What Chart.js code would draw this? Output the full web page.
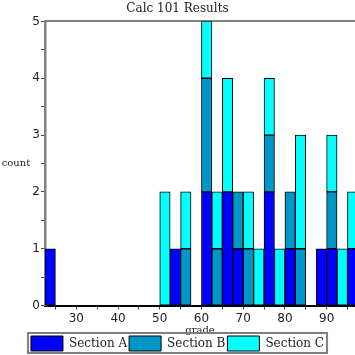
<!DOCTYPE html>
<html>
<head>
<meta charset="utf-8">
<script src="https://cdn.jsdelivr.net/npm/chart.js@4"></script>
<style>
  html, body { margin: 0; padding: 0; background: #fff; }
  canvas { display: block; }
</style>
</head>
<body>
<canvas id="c" width="355" height="355"></canvas>
<script>
// Histogram bins (left edge of each 2.5-point grade bin)
const binStarts = [22.5, 25, 27.5, 30, 32.5, 35, 37.5, 40, 42.5, 45, 47.5, 50, 52.5, 55, 57.5,
                   60, 62.5, 65, 67.5, 70, 72.5, 75, 77.5, 80, 82.5, 85, 87.5, 90, 92.5, 95];
const binWidth = 2.5;
const sectionA = [1, 0, 0, 0, 0, 0, 0, 0, 0, 0, 0, 0, 1, 0, 0, 2, 0, 2, 1, 0, 0, 2, 0, 1, 0, 0, 1, 1, 0, 1];
const sectionB = [0, 0, 0, 0, 0, 0, 0, 0, 0, 0, 0, 0, 0, 1, 0, 2, 1, 0, 1, 1, 0, 1, 0, 1, 1, 0, 0, 1, 0, 0];
const sectionC = [0, 0, 0, 0, 0, 0, 0, 0, 0, 0, 0, 2, 0, 1, 0, 1, 1, 2, 0, 1, 1, 1, 1, 0, 2, 0, 0, 1, 1, 1];
const seriesNames = ['Section A', 'Section B', 'Section C'];
const xTickValues = [25, 30, 35, 40, 45, 50, 55, 60, 65, 70, 75, 80, 85, 90, 95];
const xMin = 22.5, xMax = 96.8;
const yMin = 0, yMax = 5;

const toPoints = arr => arr.map((v, i) => ({ x: binStarts[i] + binWidth / 2, y: v }));

const AXIS_GRAY = '#808080';
const TEXT = '#222';

const legendFrame = {
  id: 'legendFrame',
  afterDraw(chart) {
    const lg = chart.legend;
    if (!lg || !lg.legendHitBoxes || !lg.legendHitBoxes.length) return;
    let l = Infinity, r = -Infinity, t = Infinity, b = -Infinity;
    lg.legendHitBoxes.forEach(h => {
      l = Math.min(l, h.left); r = Math.max(r, h.left + h.width);
      t = Math.min(t, h.top); b = Math.max(b, h.top + h.height);
    });
    const ctx = chart.ctx;
    ctx.save();
    ctx.strokeStyle = AXIS_GRAY;
    ctx.lineWidth = 2;
    ctx.strokeRect(l - 3, t - 3, (r - l) + 6, (b - t) + 5);
    ctx.restore();
  }
};

const yTitle = {
  id: 'yTitle',
  afterDraw(chart) {
    const a = chart.chartArea;
    const ctx = chart.ctx;
    ctx.save();
    ctx.font = '10px "DejaVu Serif"';
    ctx.fillStyle = TEXT;
    ctx.textAlign = 'center';
    ctx.textBaseline = 'middle';
    ctx.fillText('count', a.left - 29, (a.top + a.bottom) / 2);
    ctx.restore();
  }
};

new Chart(document.getElementById('c'), {
  type: 'bar',
  data: {
    datasets: [
      { label: seriesNames[0], data: toPoints(sectionA), backgroundColor: '#0000ff' },
      { label: seriesNames[1], data: toPoints(sectionB), backgroundColor: '#0096c8' },
      { label: seriesNames[2], data: toPoints(sectionC), backgroundColor: '#00ffff' }
    ].map(d => Object.assign(d, {
      borderColor: '#000', borderWidth: 1, borderSkipped: false,
      barPercentage: 1, categoryPercentage: 1
    }))
  },
  options: {
    responsive: false,
    animation: false,
    devicePixelRatio: 1,
    layout: { padding: { left: 0, right: 0, top: 0, bottom: -6 } },
    plugins: {
      title: {
        display: true, text: 'Calc 101 Results',
        font: { family: 'DejaVu Serif', size: 12, weight: 'normal' },
        color: TEXT, padding: { top: 2, bottom: 5 }
      },
      legend: {
        position: 'bottom',
        labels: {
          boxWidth: 32, boxHeight: 15, padding: 2,
          font: { family: 'DejaVu Serif', size: 12 }, color: TEXT
        }
      },
      tooltip: { enabled: false }
    },
    scales: {
      x: {
        type: 'linear', stacked: true, min: xMin, max: xMax, offset: false,
        afterBuildTicks: s => { s.ticks = xTickValues.map(v => ({ value: v })); },
        ticks: {
          autoSkip: false, maxRotation: 0, padding: 2, color: TEXT,
          font: { family: 'DejaVu Sans', size: 12 },
          callback: v => (v % 10 === 0 ? String(v) : '')
        },
        grid: { drawOnChartArea: false, offset: false, tickLength: 4, color: '#444' },
        border: { color: '#000', width: 2 },
        title: {
          display: true, text: 'grade', color: TEXT,
          font: { family: 'DejaVu Serif', size: 10 }, padding: { top: -4, bottom: -2 }
        }
      },
      x2: {
        type: 'linear', position: 'top', min: xMin, max: xMax,
        ticks: { display: false },
        grid: { display: false, drawOnChartArea: false, drawTicks: false },
        border: { display: true, color: AXIS_GRAY, width: 2 }
      },
      y: {
        stacked: true, min: yMin, max: yMax,
        afterFit: s => { s.width = 45; },
        ticks: {
          stepSize: 0.5, padding: 1, color: TEXT,
          font: { family: 'DejaVu Sans', size: 12 },
          callback: v => (v % 1 === 0 ? String(v) : '')
        },
        grid: { drawOnChartArea: false, tickLength: 4, color: '#444' },
        border: { color: AXIS_GRAY, width: 2.5 }
      }
    }
  },
  plugins: [legendFrame, yTitle]
});
</script>
</body>
</html>
